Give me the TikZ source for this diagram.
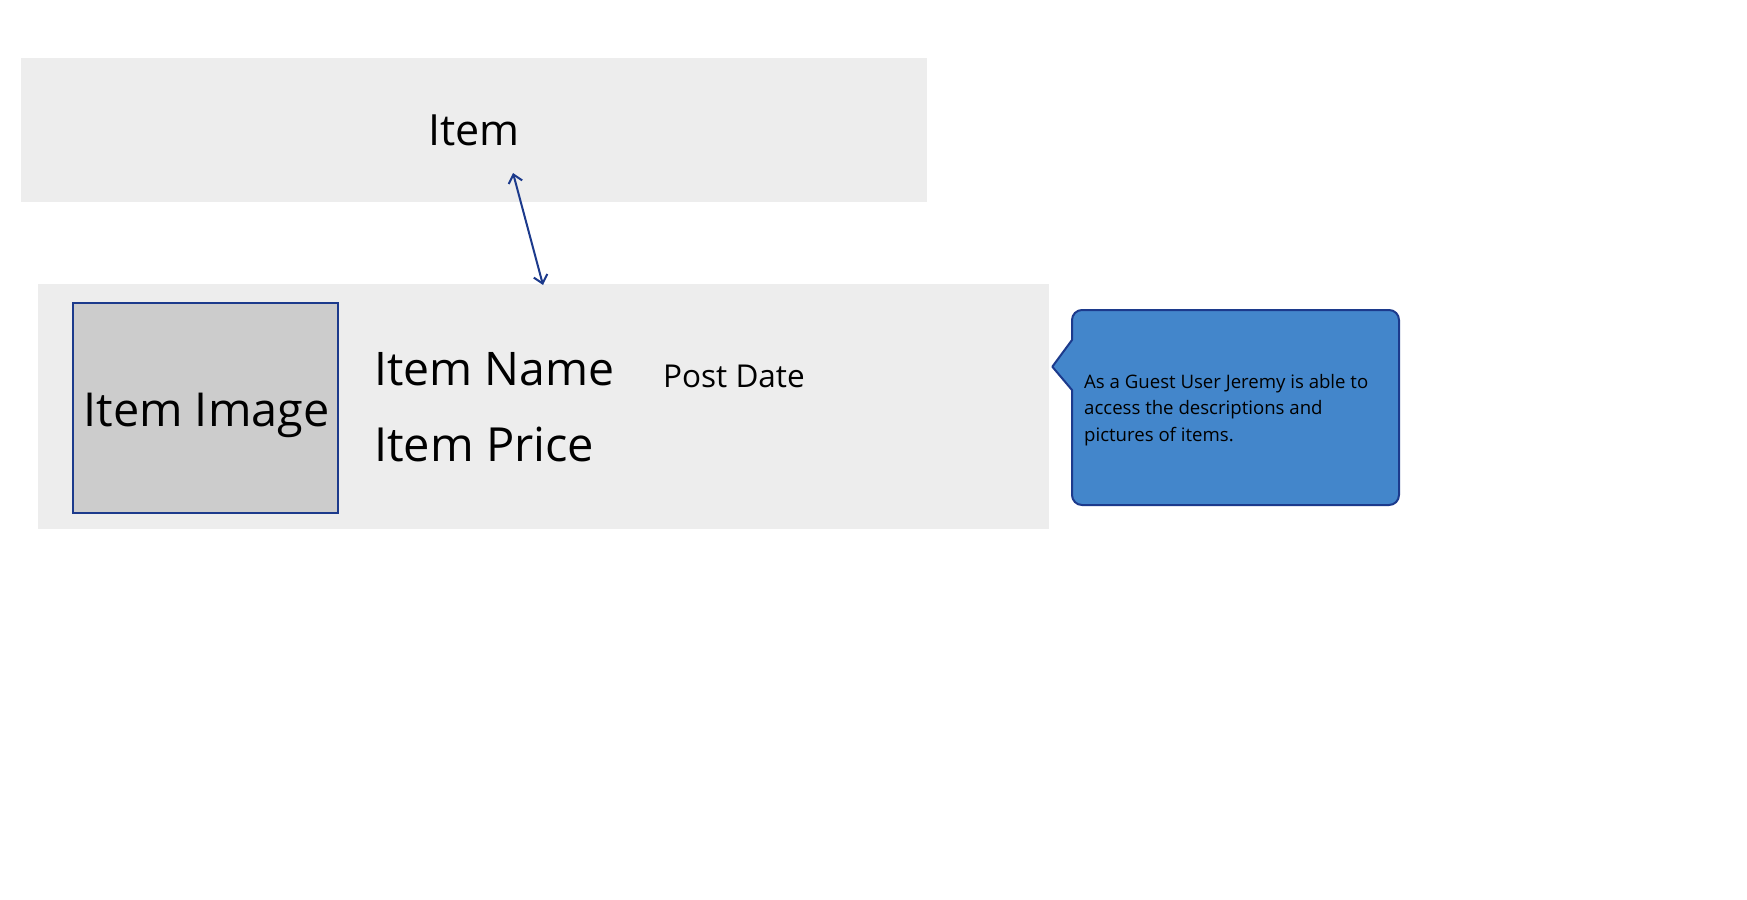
\documentclass[tikz,border=0pt]{standalone}
\usepackage{fontspec}
\setmainfont{Open Sans}
\usetikzlibrary{arrows.meta}
\definecolor{panelgray}{HTML}{EDEDED}
\definecolor{imggray}{HTML}{CCCCCC}
\definecolor{navy}{HTML}{1C3A8C}
\definecolor{callblue}{HTML}{4386CB}
\tikzset{
  panel/.style={fill=panelgray, draw=none},
  imgbox/.style={fill=imggray, draw=navy, line width=2pt},
  bigtext/.style={inner sep=0pt, font=\fontsize{46.3}{56}\selectfont},
  smalltext/.style={inner sep=0pt, font=\fontsize{31.5}{37}\selectfont},
  notetext/.style={inner sep=0pt, align=left, font=\fontsize{18.6}{26.7}\selectfont},
  link/.style={draw=navy, line width=2pt, {Straight Barb[length=8pt,width=14pt]}-{Straight Barb[length=8pt,width=14pt]}},
  calloutshape/.style={fill=callblue, draw=navy, line width=2pt, line join=round}
}
\begin{document}
\begin{tikzpicture}[x=1pt,y=-1pt]
\path[use as bounding box, fill=white] (0,0) rectangle (1747,899);
% top panel
\path[panel] (20.7,58) rectangle (926.7,202);
\node[bigtext, font=\fontsize{43}{52}\selectfont, anchor=base] (item) at (474,145.7) {Item};
% lower panel
\path[panel] (38.3,284) rectangle (1049.3,529);
\node[imgbox, minimum width=265pt, minimum height=210pt, inner sep=0pt] (image) at (205.7,407.7) {};
\node[bigtext, font=\fontsize{46.8}{56}\selectfont, anchor=base] (imagetext) at (206.5,426) {Item Image};
\node[bigtext, anchor=base west] (name) at (374,385) {Item Name};
\node[bigtext, font=\fontsize{47}{56}\selectfont, anchor=base west] (price) at (374,461.7) {Item Price};
\node[smalltext, anchor=base west] (date) at (663,387.7) {Post Date};
% connector
\coordinate (a1) at (513,173);
\coordinate (a2) at (543,285);
\draw[link] (a1) -- (a2);
% callout
\draw[calloutshape] (1072,340) [rounded corners=10pt] -- (1072,310) -- (1399,310) -- (1399,505) -- (1072,505) [sharp corners] -- (1072,390) -- (1052.3,366.7) -- cycle;
\node[notetext, anchor=base west] (note) at (1084,441.4) {As a Guest User Jeremy is able to\\access the descriptions and\\pictures of items.};
\end{tikzpicture}
\end{document}
